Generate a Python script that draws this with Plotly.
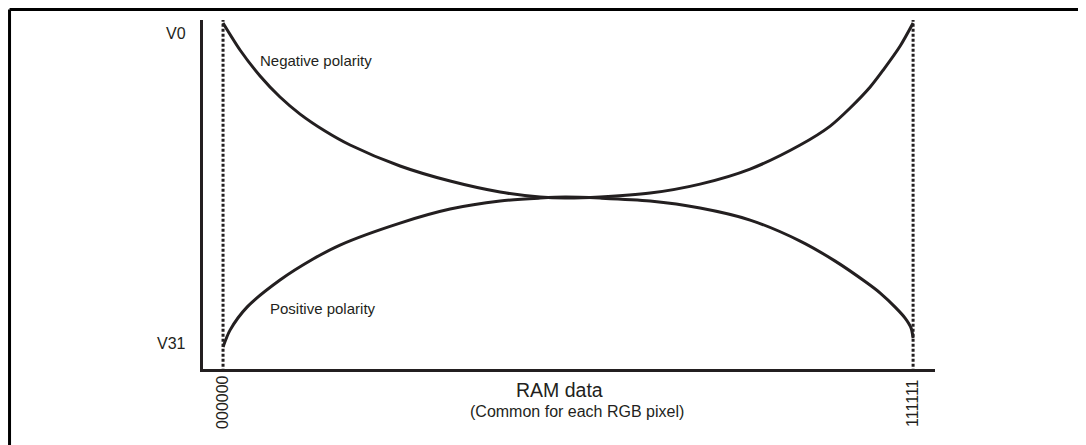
import plotly.graph_objects as go

# RAM data value (0 = 000000, 63 = 111111) and gray-scale level (0 = V0, 31 = V31)
neg_x = [0, 1.55, 3.38, 5.2, 7.03, 9.31, 11.6, 16.16, 20.73, 25.29, 28.94, 31.23, 34.42, 38.99,
         43.55, 48.12, 52.69, 55.43, 57.25, 59.08, 60.27, 61.82, 63]
neg_level = [0, 2.58, 5.07, 7.08, 8.71, 10.33, 11.67, 13.68, 15.12, 16.17, 16.65, 16.75, 16.65, 16.27,
             15.41, 13.97, 11.67, 9.86, 8.13, 6.12, 4.5, 2.2, 0]

pos_x = [0, 0.64, 2.19, 5.2, 8.22, 10.68, 16.16, 20.73, 25.29, 28.94, 31.23, 34.42, 38.99,
         43.55, 48.12, 52.69, 55.89, 58.81, 60.0, 61.36, 62.27, 62.82, 63]
pos_level = [31, 29.38, 27.18, 24.59, 22.58, 21.24, 19.14, 17.8, 17.03, 16.75, 16.65, 16.75, 17.03,
             17.7, 18.85, 20.86, 22.78, 24.88, 25.84, 27.18, 28.23, 29.19, 30.14]

x_tick_vals = [0, 63]
x_tick_text = ["000000", "111111"]
y_tick_vals = [0, 31]
y_tick_text = ["V0", "V31"]
y_label_pos = [0.96, 30.7]

ink = "#231f20"
font_family = "Liberation Sans, Arial, sans-serif"

fig = go.Figure()

# dotted guides at the end codes
for xv in x_tick_vals:
    fig.add_trace(go.Scatter(x=[xv, xv], y=[-0.4, 33.2], mode="lines",
                             line=dict(color=ink, width=3, dash="3px,2px"),
                             hoverinfo="skip", showlegend=False))

fig.add_trace(go.Scatter(x=neg_x, y=neg_level, mode="lines",
                         line=dict(color=ink, width=3, shape="spline", smoothing=0.8),
                         name="Negative polarity", showlegend=False))
fig.add_trace(go.Scatter(x=pos_x, y=pos_level, mode="lines",
                         line=dict(color=ink, width=3, shape="spline", smoothing=0.8),
                         name="Positive polarity", showlegend=False))

fig.update_xaxes(range=[-1.83, 65.0], showgrid=False, zeroline=False,
                 showticklabels=False, ticks="", showline=True,
                 linecolor=ink, linewidth=3)
fig.update_yaxes(range=[33.1, -0.29], showgrid=False, zeroline=False,
                 showticklabels=False, ticks="", showline=True,
                 linecolor=ink, linewidth=3)

ann = []
for yp, txt in zip(y_label_pos, y_tick_text):
    ann.append(dict(x=-0.0205, xref="paper", y=yp, yref="y",
                    text=txt, showarrow=False, xanchor="right", yanchor="middle",
                    font=dict(size=16, color=ink, family=font_family)))
for xv, txt in zip(x_tick_vals, x_tick_text):
    ann.append(dict(x=xv, xref="x", y=-0.097, yref="paper", text=txt, textangle=-90,
                    showarrow=False, xanchor="center", yanchor="middle",
                    font=dict(size=16, color=ink, family=font_family)))

ann.append(dict(x=3.2, xref="x", y=3.54, yref="y", text="Negative polarity",
                showarrow=False, xanchor="left", yanchor="middle",
                font=dict(size=15, color=ink, family=font_family)))
ann.append(dict(x=4.11, xref="x", y=27.27, yref="y", text="Positive polarity",
                showarrow=False, xanchor="left", yanchor="middle",
                font=dict(size=15, color=ink, family=font_family)))
ann.append(dict(x=0.487, xref="paper", y=-0.06, yref="paper", text="RAM data",
                showarrow=False, xanchor="center", yanchor="middle",
                font=dict(size=19.5, color=ink, family=font_family)))
ann.append(dict(x=0.511, xref="paper", y=-0.123, yref="paper",
                text="(Common for each RGB pixel)",
                showarrow=False, xanchor="center", yanchor="middle",
                font=dict(size=16, color=ink, family=font_family)))

# outer frame (left and top edges visible)
shapes = [
    dict(type="line", xref="paper", yref="paper", x0=-0.2643, x1=-0.2643, y0=1.030, y1=-0.25,
         line=dict(color="black", width=3)),
    dict(type="line", xref="paper", yref="paper", x0=-0.2643, x1=1.25, y0=1.030, y1=1.030,
         line=dict(color="black", width=3)),
]

fig.update_layout(width=1086, height=445,
                  margin=dict(l=195, r=159, t=12, b=84),
                  plot_bgcolor="white", paper_bgcolor="white",
                  annotations=ann, shapes=shapes, showlegend=False)

fig.write_html("out.html")
